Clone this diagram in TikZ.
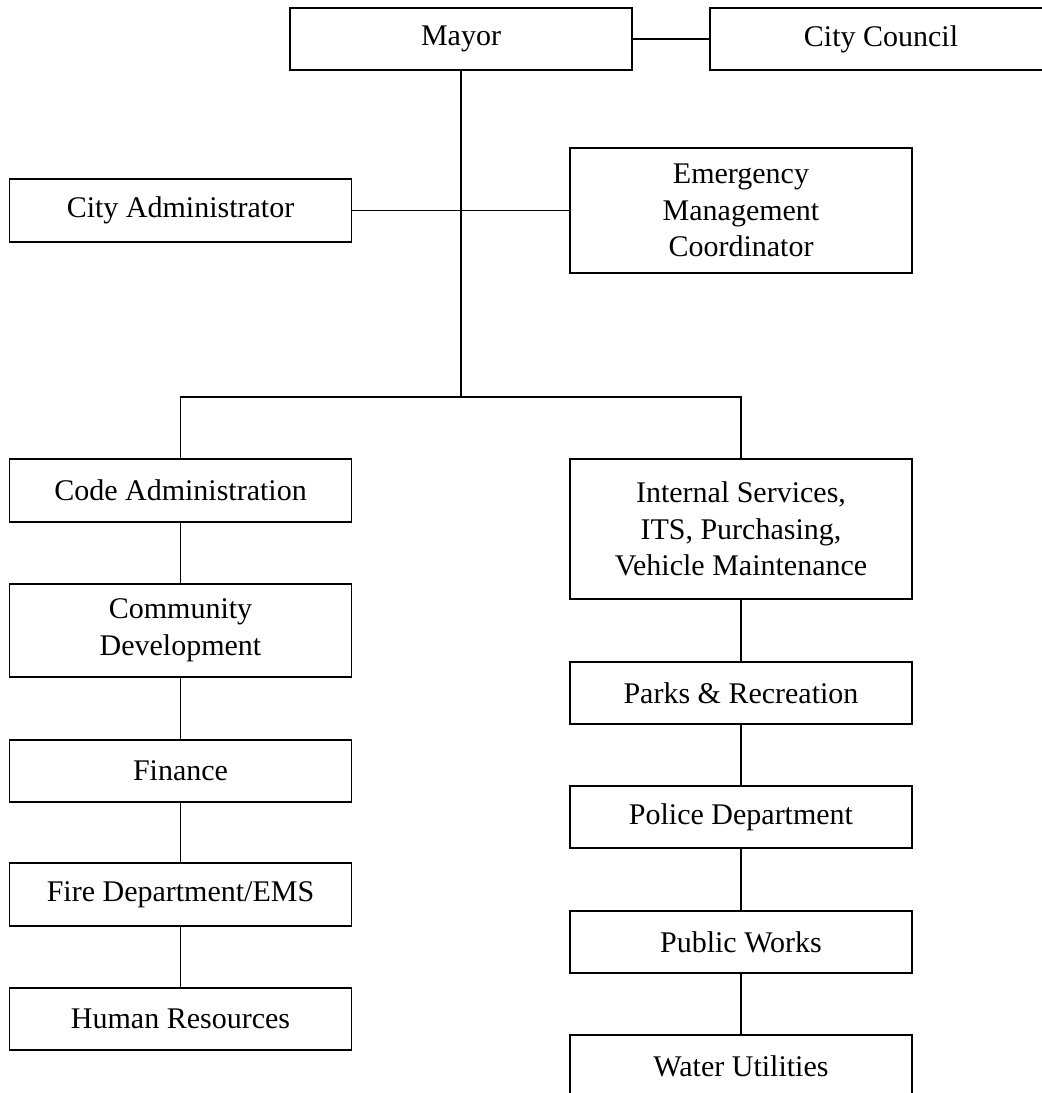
\documentclass[tikz,border=0pt]{standalone}
\usepackage{fontspec}
\setmainfont{Liberation Serif}
\begin{document}
\begin{tikzpicture}[x=1pt,y=-1pt,
  orgbox/.style={draw=black, line width=1.8pt, fill=white, minimum width=342pt,
    inner sep=0pt, align=center, font=\fontsize{30}{36.5}\selectfont},
  link/.style={draw=black, line width=1.8pt}]
\useasboundingbox (0,0) rectangle (1042,1093);

% top level
\node[orgbox, minimum height=62pt] (mayor) at (461,39) {Mayor};
\node[orgbox, minimum height=62pt] (council) at (881,39) {City Council};

% staff level
\node[orgbox, minimum height=63pt] (admin) at (180.5,210.5) {City Administrator};
\node[orgbox, minimum height=125pt] (emc) at (741,210.5) {Emergency\\Management\\Coordinator};

% left column of departments
\node[orgbox, minimum height=63pt] (code) at (180.5,490.5) {Code Administration};
\node[orgbox, minimum height=93pt] (comm) at (180.5,630.5) {Community\\Development};
\node[orgbox, minimum height=62pt] (fin) at (180.5,771) {Finance};
\node[orgbox, minimum height=63pt] (fire) at (180.5,894.5) {Fire Department/EMS};
\node[orgbox, minimum height=62pt] (hr) at (180.5,1019) {Human Resources};

% right column of departments
\node[orgbox, minimum height=140pt] (its) at (741,529) {Internal Services,\\ITS, Purchasing,\\Vehicle Maintenance};
\node[orgbox, minimum height=62pt] (parks) at (741,693) {Parks \& Recreation};
\node[orgbox, minimum height=62pt] (police) at (741,817) {Police Department};
\node[orgbox, minimum height=62pt] (pw) at (741,942) {Public Works};
\node[orgbox, minimum height=62pt] (water) at (741,1066) {Water Utilities};

\coordinate (bar) at (461,397);

% connectors
\draw[link] (mayor.east) -- (council.west);
\draw[link] (mayor.south) -- (bar);
\draw[link] (admin.east) -- (emc.west);
\draw[link] (code.north) |- (bar) -| (its.north);
\draw[link] (code) -- (comm) -- (fin) -- (fire) -- (hr);
\draw[link] (its) -- (parks) -- (police) -- (pw) -- (water);
\end{tikzpicture}
\end{document}
